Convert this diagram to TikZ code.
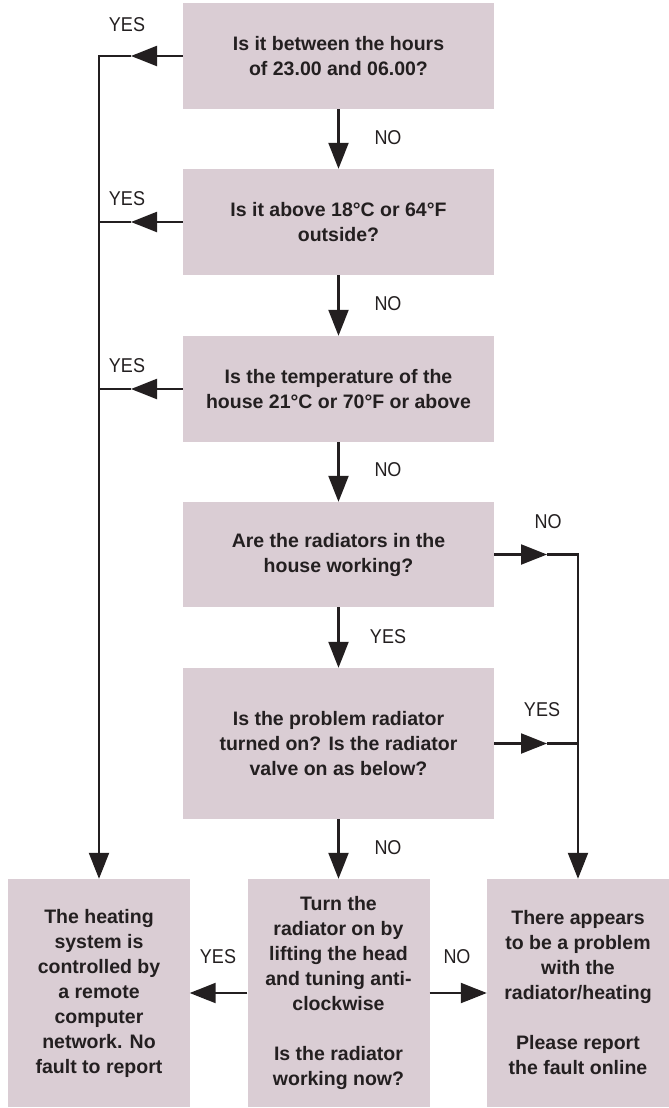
\documentclass[tikz,border=0pt]{standalone}
\usepackage{fontspec}
\setmainfont{Liberation Sans}
\newfontfamily\lblfont{Liberation Sans}[FakeStretch=0.9]
\usetikzlibrary{arrows.meta}
\definecolor{boxfill}{RGB}{218,205,212}
\definecolor{ink}{RGB}{35,31,32}
\tikzset{
  box/.style={fill=boxfill, draw=none, minimum width=311bp, minimum height=106bp,
    inner sep=0pt, align=center, text=ink,
    font=\bfseries\fontsize{19.5bp}{25bp}\selectfont},
  smallbox/.style={box, minimum width=182bp, minimum height=228bp},
  lbl/.style={text=ink, inner sep=0pt, font=\lblfont\fontsize{20bp}{22bp}\selectfont},
  conn/.style={draw=ink, line width=2.2pt, line join=miter},
  arr/.style={conn, -{Triangle[length=26bp,width=20bp]}}
}
\begin{document}
\begin{tikzpicture}[x=1bp,y=-1bp]
\useasboundingbox (0,0) rectangle (669,1108);
% boxes
\node[box] (b1) at (338.5,56) {Is it between the hours\\of 23.00 and 06.00?};
\node[box] (b2) at (338.5,222) {Is it above 18°C or 64°F\\outside?};
\node[box] (b3) at (338.5,389) {Is the temperature of the\\house 21°C or 70°F or above};
\node[box, minimum height=105bp] (b4) at (338.5,554.5) {Are the radiators in the\\house working?};
\node[box, minimum height=151bp] (b5) at (338.5,743.5) {Is the problem radiator\\turned on? Is the radiator\\valve on as below?};
\node[smallbox, minimum width=181bp] (b6) at (99,993) {The heating\\system is\\controlled by\\a remote\\computer\\network. No\\fault to report};
\node[smallbox] (b7) at (338.5,993) {Turn the\\radiator on by\\lifting the head\\and tuning anti-\\clockwise\\[25bp]Is the radiator\\working now?};
\node[smallbox] (b8) at (578,993) {There appears\\to be a problem\\with the\\radiator/heating\\[25bp]Please report\\the fault online};
% junctions
\coordinate (t1) at (131,56);  \coordinate (j1) at (99,56);
\coordinate (t2) at (131,222); \coordinate (j2) at (99,222);
\coordinate (t3) at (131,389); \coordinate (j3) at (99,389);
\coordinate (r1t) at (547,554.5); \coordinate (r1) at (578,554.5);
\coordinate (r2t) at (547,743.5); \coordinate (r2) at (578,743.5);
% left YES branch
\draw[arr] (b1.west) -- (t1);
\draw[arr] (t1) -- (j1) -- (b6.north);
\draw[arr] (b2.west) -- (t2);
\draw[conn] (t2) -- (j2);
\draw[arr] (b3.west) -- (t3);
\draw[conn] (t3) -- (j3);
% main column
\draw[arr] (b1.south) -- (b2.north);
\draw[arr] (b2.south) -- (b3.north);
\draw[arr] (b3.south) -- (b4.north);
\draw[arr] (b4.south) -- (b5.north);
\draw[arr] (b5.south) -- (b7.north);
% right branch
\draw[arr] (b4.east) -- (r1t);
\draw[arr] (r1t) -- (r1) -- (b8.north);
\draw[arr] (b5.east) -- (r2t);
\draw[conn] (r2t) -- (r2);
% bottom
\draw[arr] (b7.west) -- (b6.east);
\draw[arr] (b7.east) -- (b8.west);
% labels
\node[lbl] (l1) at (127,25) {YES};
\node[lbl] (l2) at (127,199) {YES};
\node[lbl] (l3) at (127,366) {YES};
\node[lbl] (l4) at (388,138) {NO};
\node[lbl] (l5) at (388,304) {NO};
\node[lbl] (l6) at (388,470) {NO};
\node[lbl] (l7) at (388,637) {YES};
\node[lbl] (l8) at (388,848) {NO};
\node[lbl] (l9) at (548,522) {NO};
\node[lbl] (l10) at (542,710) {YES};
\node[lbl] (l11) at (218,957) {YES};
\node[lbl] (l12) at (457,957) {NO};
\end{tikzpicture}
\end{document}
